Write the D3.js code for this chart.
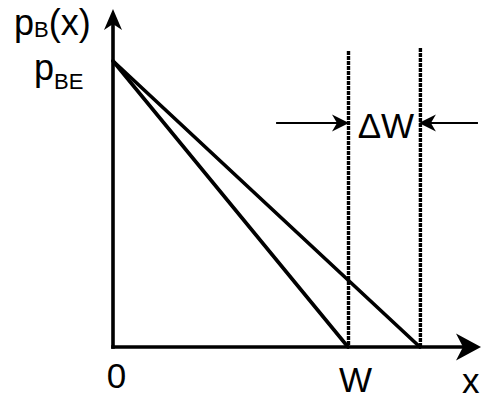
<!DOCTYPE html>
<html>
<head>
<meta charset="utf-8">
<script src="https://cdn.jsdelivr.net/npm/d3@7/dist/d3.min.js"></script>
<style>
  html, body { margin: 0; padding: 0; background: #fff; }
  svg { display: block; }
  text { font-family: Arial, "Liberation Sans", sans-serif; fill: #000; }
</style>
</head>
<body>
<svg id="chart" width="482" height="405"></svg>
<script>
// Base-region minority carrier profile p_B(x): linear decay from p_BE at x = 0
// to zero at the base edge, shown for width W and for the widened base W + ΔW.
const pBE = 1;                        // normalised injected concentration
const baseWidths = [1, 1.306];        // W and W + ΔW (in units of W)
const xTickValues = [0, 1];
const xTickLabels = ["0", "W"];
const xAxisEnd = 1.566;               // arrow tip of the x axis
const yAxisEnd = 1.182;               // arrow tip of the y axis
const guideTop = 1.035;               // top of the dotted width markers
const dimLevel = 0.783;               // height of the ΔW dimension arrows
const dimTails = [0.694, 1.553];      // outer ends of the two ΔW arrows

const svg = d3.select("#chart");
const x = d3.scaleLinear().domain([0, 1]).range([113, 348]);
const y = d3.scaleLinear().domain([0, pBE]).range([347, 61]);
const LW = 3.6;

// notched ("stealth") arrowhead pointing from (fx,fy) towards tip (tx,ty)
function arrowHead(tx, ty, fx, fy, len, half, notch) {
  const dx = tx - fx, dy = ty - fy, d = Math.hypot(dx, dy);
  const ux = dx / d, uy = dy / d, px = -uy, py = ux;
  const bx = tx - ux * len, by = ty - uy * len;
  const nx = tx - ux * (len - notch), ny = ty - uy * (len - notch);
  return `M${tx},${ty}L${bx + px * half},${by + py * half}L${nx},${ny}L${bx - px * half},${by - py * half}Z`;
}

// dotted markers at each base edge
svg.selectAll("line.guide")
  .data(baseWidths)
  .join("line")
  .attr("class", "guide")
  .attr("x1", d => x(d) + 0.5).attr("x2", d => x(d) + 0.5)
  .attr("y1", (d, i) => Math.round(y(guideTop)) + i * -3).attr("y2", y(0))
  .attr("stroke", "#000").attr("stroke-width", 3.4)
  .attr("stroke-dasharray", "4,1");

// axes
svg.append("line")
  .attr("x1", x(0)).attr("y1", y(0) + LW / 2)
  .attr("x2", x(0)).attr("y2", y(yAxisEnd) + 12)
  .attr("stroke", "#000").attr("stroke-width", LW);
svg.append("path")
  .attr("d", arrowHead(x(0), y(yAxisEnd), x(0), y(0), 21, 9, 6))
  .attr("fill", "#000");

svg.append("line")
  .attr("x1", x(0) - LW / 2).attr("y1", y(0))
  .attr("x2", x(xAxisEnd) - 14).attr("y2", y(0))
  .attr("stroke", "#000").attr("stroke-width", LW);
svg.append("path")
  .attr("d", arrowHead(x(xAxisEnd), y(0), x(0), y(0), 25, 13.5, 7))
  .attr("fill", "#000");

// x tick labels through a bottom axis with no tick marks or domain line
const xAxis = svg.append("g")
  .attr("transform", `translate(0,${y(0)})`)
  .call(d3.axisBottom(x).tickValues(xTickValues).tickSize(0).tickPadding(0)
    .tickFormat((d, i) => xTickLabels[i]));
xAxis.select(".domain").remove();
xAxis.selectAll("text")
  .attr("font-size", 35)
  .attr("font-family", "Arial, 'Liberation Sans', sans-serif")
  .attr("fill", "#000")
  .attr("dy", null)
  .attr("y", (d, i) => i === 0 ? 41 : 45)
  .attr("dx", (d, i) => i === 0 ? 3 : 7);

// carrier profiles
const line = d3.line().x(d => x(d[0])).y(d => y(d[1]));
svg.selectAll("path.profile")
  .data(baseWidths)
  .join("path")
  .attr("class", "profile")
  .attr("d", w => line([[0, pBE], [w, 0]]))
  .attr("fill", "none").attr("stroke", "#000").attr("stroke-width", LW)
  .attr("stroke-linecap", "round");

// ΔW dimension arrows pointing inward to the two markers
dimTails.forEach((tail, i) => {
  const tip = baseWidths[i];
  const dir = Math.sign(tip - tail);
  svg.append("line")
    .attr("x1", x(tail)).attr("y1", y(dimLevel))
    .attr("x2", x(tip) - dir * 10).attr("y2", y(dimLevel))
    .attr("stroke", "#000").attr("stroke-width", 2);
  svg.append("path")
    .attr("d", arrowHead(x(tip) + dir * 1, y(dimLevel), x(tail), y(dimLevel), 17, 8.5, 5))
    .attr("fill", "#000");
});

svg.append("text")
  .attr("x", (x(baseWidths[0]) + x(baseWidths[1])) / 2 + 2)
  .attr("y", y(dimLevel) + 15)
  .attr("text-anchor", "middle")
  .attr("font-size", 35)
  .text("ΔW");

// axis titles
const yTitle = svg.append("text").attr("x", 14).attr("y", 35).attr("font-size", 36);
yTitle.append("tspan").text("p");
yTitle.append("tspan").attr("font-size", 22).attr("dy", 2).text("B");
yTitle.append("tspan").attr("dy", -2).text("(x)");

const pLabel = svg.append("text").attr("x", 34).attr("y", y(pBE) + 19).attr("font-size", 36);
pLabel.append("tspan").text("p");
pLabel.append("tspan").attr("font-size", 22).attr("dy", 9).text("BE");

svg.append("text")
  .attr("x", 462).attr("y", 393)
  .attr("font-size", 35)
  .text("x");
</script>
</body>
</html>
